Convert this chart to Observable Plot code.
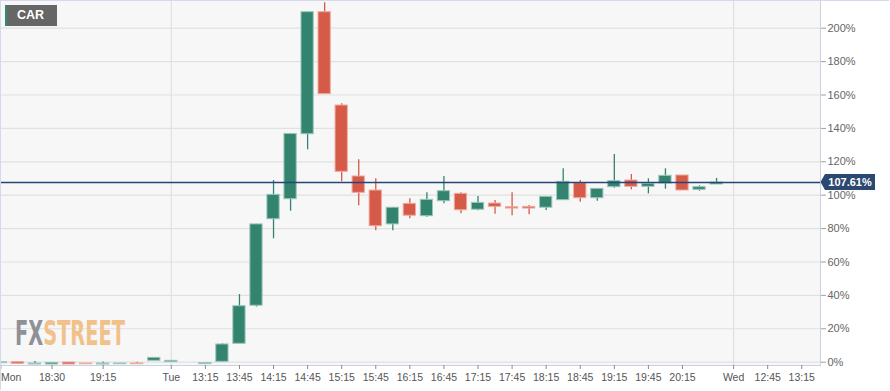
<!DOCTYPE html>
<html>
<head>
<meta charset="utf-8">
<script src="https://cdn.jsdelivr.net/npm/d3@7"></script>
<script src="https://cdn.jsdelivr.net/npm/@observablehq/plot@0.6"></script>
<style>
  body { margin: 0; background: #ffffff; font-family: "Liberation Sans", Arial, sans-serif; }
  #wrap { position: relative; width: 890px; height: 391px; overflow: hidden; }
  #border { position: absolute; left: 0; top: 0; width: 888px; height: 389px;
            border-top: 1px solid #d5d9ee; border-left: 1px solid #d5d9ee; pointer-events: none; }
  #tag { position: absolute; left: 5px; top: 5px; width: 50px; height: 21px; background: #666666;
         border-left: 2px solid #2e8b6f; color: #ffffff; font: bold 12.5px "Liberation Sans", Arial, sans-serif;
         line-height: 21px; box-sizing: content-box; }
  #tag span { position: absolute; left: 10px; top: 0; }
  #wm { position: absolute; left: 0; top: 300px; width: 150px; height: 60px; pointer-events: none; }
</style>
</head>
<body>
<div id="wrap">
  <div id="chart"></div>
  <svg id="wm" width="150" height="60">
    <text x="15" y="45" textLength="110" lengthAdjust="spacingAndGlyphs"
          font-family="DejaVu Sans Condensed, DejaVu Sans" font-weight="bold" font-size="34"><tspan fill="#909197">FX</tspan><tspan fill="#f2c189">STREET</tspan></text>
  </svg>
  <div id="tag"><span>CAR</span></div>
  <div id="border"></div>
</div>
<script>
// ---- data ----
const symbol = "CAR";
const currentPrice = 107.61;

// x slots (15-minute bars, session gaps removed)
const slots = [
  "Mon 17:45","Mon 18:00","Mon 18:15","Mon 18:30","Mon 18:45","Mon 19:00","Mon 19:15","Mon 19:30","Mon 19:45","Mon 20:00",
  "Tue 12:45","Tue 13:00","Tue 13:15","Tue 13:30","Tue 13:45","Tue 14:00","Tue 14:15","Tue 14:30","Tue 14:45","Tue 15:00",
  "Tue 15:15","Tue 15:30","Tue 15:45","Tue 16:00","Tue 16:15","Tue 16:30","Tue 16:45","Tue 17:00","Tue 17:15","Tue 17:30",
  "Tue 17:45","Tue 18:00","Tue 18:15","Tue 18:30","Tue 18:45","Tue 19:00","Tue 19:15","Tue 19:30","Tue 19:45","Tue 20:00",
  "Tue 20:15","Tue 20:30","Tue 20:45",
  "Wed 12:15","Wed 12:30","Wed 12:45","Wed 13:00","Wed 13:15","Wed 13:30"
];

// OHLC values in % (one per bar, from the first slot)
const opens  = [-0.6, 0, -1.4, -1.4, -0.2, -0.8, -1.4, -1.2, -0.8, 0.8,
                0, 0.3, -1.2, 0.2, 11, 33.8, 85.6, 97.6, 136.5, 209.6,
                153.7, 111.2, 102.8, 82.5, 94.8, 87.4, 96.4, 100.8, 91.3, 95,
                92.8, 93, 92.5, 97, 107.2, 98.2, 104.8, 108.8, 105, 107,
                111.8, 103.2, 106.4];
const highs  = [0, 0, 0.4, -0.4, -0.2, -0.8, 0.1, -0.8, 0, 2.6,
                0.8, 0.3, -0.6, 11, 40.5, 82.5, 108.8, 136.7, 209.6, 215.2,
                154.7, 121.2, 109.8, 92.5, 97.8, 101.4, 111.2, 101.4, 99.2, 96.8,
                101.4, 93.8, 99, 115.8, 108.8, 103.8, 124.4, 112.4, 109.8, 115.8,
                111.8, 105.6, 110];
const lows   = [-0.6, -1.4, -1.4, -1.4, -1.4, -1.2, -1.6, -1.2, -1.2, 0.8,
                0, 0.3, -1.2, 0, 11, 33, 73.9, 90.4, 127.2, 160.5,
                108, 93.7, 78.7, 78.7, 85.9, 86.8, 94.8, 88.9, 90.7, 88.6,
                87.7, 88.3, 90.8, 97, 95.8, 96.4, 104.2, 103.2, 100.8, 103.6,
                102.8, 102.4, 106.4];
const closes = [-0.1, -1.0, -0.8, -0.4, -1.4, -1.2, -0.8, -0.8, -1.2, 2.6,
                0.8, 0.3, -0.6, 10.6, 33.5, 82.5, 100.2, 136.7, 209.6, 160.5,
                114, 101.4, 81.4, 92.5, 87.7, 97.2, 102.4, 91, 95.4, 93,
                92, 92, 99, 108, 98.2, 103.8, 108.4, 105, 106.8, 111.6,
                102.8, 104.8, 107.6];

const yTicks = [0, 20, 40, 60, 80, 100, 120, 140, 160, 180, 200];
const tickSlots = ["Mon 17:45","Mon 18:30","Mon 19:15","Tue 12:45","Tue 13:15","Tue 13:45","Tue 14:15","Tue 14:45",
  "Tue 15:15","Tue 15:45","Tue 16:15","Tue 16:45","Tue 17:15","Tue 17:45","Tue 18:15","Tue 18:45","Tue 19:15",
  "Tue 19:45","Tue 20:15","Wed 12:15","Wed 12:45","Wed 13:15"];

// ---- derived table ----
const bars = opens.map((o, i) => ({i, slot: slots[i], open: o, high: highs[i], low: lows[i], close: closes[i]}));
const dayOf = s => s.split(" ")[0];
const fmt = i => (i === 0 || dayOf(slots[i - 1]) !== dayOf(slots[i])) ? dayOf(slots[i]) : slots[i].split(" ")[1];
const tickIdx = tickSlots.map(s => slots.indexOf(s));
const dayStarts = slots.map((s, i) => i).filter(i => i > 0 && dayOf(slots[i - 1]) !== dayOf(slots[i]));

const GREEN = "#33846f", GREEN_EDGE = "#9cc6b9";
const RED = "#d55a47", RED_EDGE = "#efaa9e";
const fillOf = d => d.close > d.open ? GREEN : d.close < d.open ? RED : "#111111";
const edgeOf = d => d.close > d.open ? GREEN_EDGE : d.close < d.open ? RED_EDGE : "#111111";

const priceLabel = (index, scales, values, dims) => {
  if (!scales || !scales.y) return null;
  const y = scales.y(currentPrice);
  const x0 = dims.width - dims.marginRight;
  const g = d3.create("svg:g");
  g.append("path")
    .attr("d", `M${x0 + 0.5},${y} L${x0 + 5},${y - 8} H${x0 + 55} V${y + 8} H${x0 + 5} Z`)
    .attr("fill", "#2b4870");
  g.append("text")
    .attr("x", x0 + 30).attr("y", y).attr("dy", "0.36em")
    .attr("text-anchor", "middle").attr("fill", "#ffffff")
    .attr("font-family", "Liberation Sans, Arial, sans-serif")
    .attr("font-weight", "bold").attr("font-size", 11)
    .text(currentPrice.toFixed(2) + "%");
  return g.node();
};

const axisText = {fontSize: 10.5, fill: "#555555", stroke: "#8a8a8a", tickSize: 4, tickPadding: 4, label: null};

const chart = Plot.plot({
  width: 890,
  height: 391,
  marginLeft: 0,
  marginRight: 70,
  marginTop: 0,
  marginBottom: 26,
  style: {background: "transparent", fontFamily: "Liberation Sans, Arial, sans-serif"},
  x: {type: "linear", domain: [-0.0235, 48.1], axis: null, label: null},
  y: {domain: [-2, 216.6], axis: null, label: null},
  marks: [
    Plot.frame({fill: "#f7f7f7", stroke: "none"}),
    Plot.gridY(yTicks, {stroke: "#e1e1e1", strokeOpacity: 1, strokeWidth: 1.2}),
    Plot.ruleX(dayStarts, {stroke: "#e1e1e1", strokeWidth: 1.2}),
    Plot.frame({stroke: "#cbd0e3", fill: "none"}),
    Plot.ruleX(bars, {x: "i", y1: "low", y2: "high", stroke: fillOf, strokeWidth: 1.3}),
    Plot.rect(bars, {x1: d => d.i - 0.36, x2: d => d.i + 0.36, y1: "open", y2: "close",
                     fill: fillOf, stroke: edgeOf, strokeWidth: 1}),
    Plot.ruleY([currentPrice], {stroke: "#24467a", strokeWidth: 1.3}),
    Plot.axisY(yTicks, {anchor: "right", tickFormat: d => d + "%", tickSize: 5, tickPadding: 2,
                        fontSize: 11, fill: "#666666", stroke: "#a0a0a0", label: null}),
    Plot.axisX(tickIdx.slice(1), {...axisText, tickFormat: fmt}),
    Plot.axisX(tickIdx.slice(0, 1), {...axisText, tickFormat: fmt, textAnchor: "start"}),
    priceLabel
  ]
});
document.getElementById("chart").appendChild(chart);
</script>
</body>
</html>
